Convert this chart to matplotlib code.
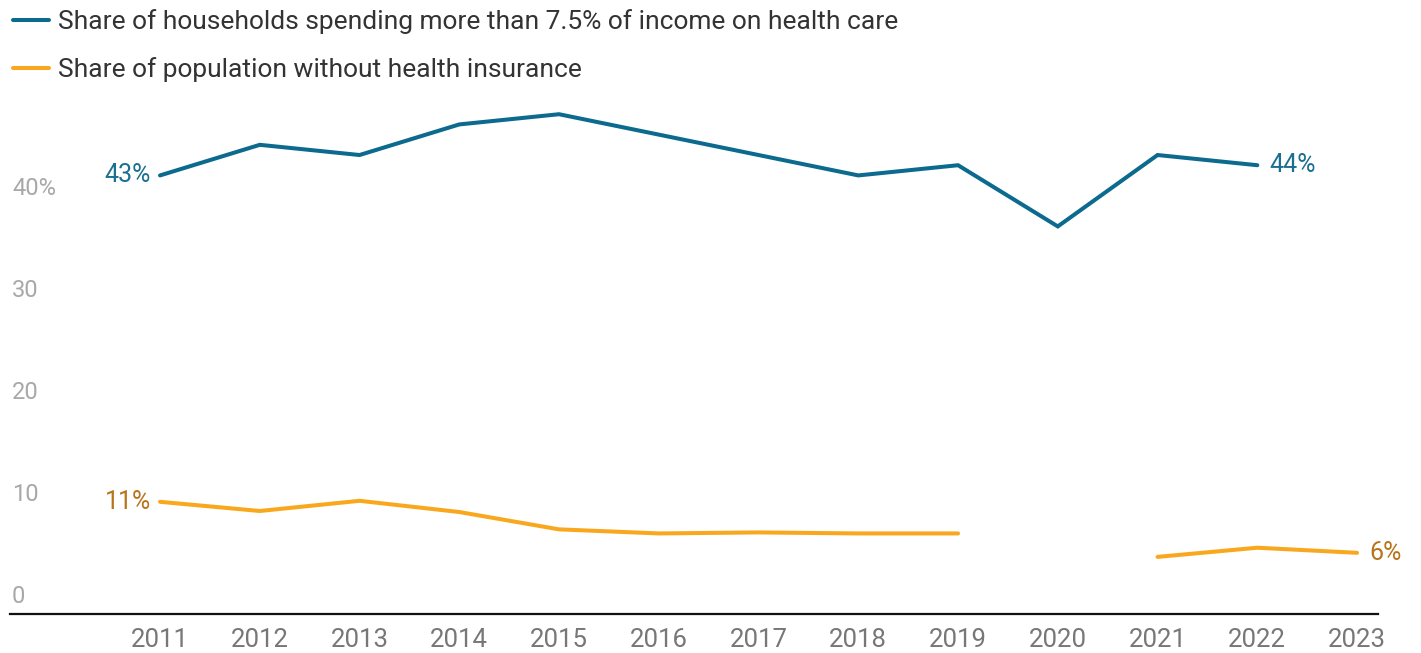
# Health care spending burden vs. uninsured share, 2011-2023

import numpy as np
import matplotlib.pyplot as plt
from matplotlib.transforms import blended_transform_factory, offset_copy

plt.rcParams['font.family'] = ['Roboto', 'DejaVu Sans']

# --- Data ---
years = [2011, 2012, 2013, 2014, 2015, 2016, 2017, 2018, 2019, 2020, 2021, 2022, 2023]
spending_share = [43, 46, 45, 48, 49, 47, 45, 43, 44, 38, 45, 44, np.nan]
uninsured_share = [11, 10.1, 11.1, 10.0, 8.3, 7.9, 8.0, 7.9, 7.9, np.nan, 5.6, 6.5, 6]
y_ticks = [0, 10, 20, 30, 40]
y_tick_labels = ['0', '10', '20', '30', '40%']

label_spending = 'Share of households spending more than 7.5% of income on health care'
label_uninsured = 'Share of population without health insurance'

# --- Style ---
color_blue = '#0b6a8e'
color_orange = '#f9a81e'
color_blue_text = '#1a6f92'
color_orange_text = '#b8741a'
tick_color = '#a8a8a8'
year_color = '#777777'

fig = plt.figure(figsize=(14.21, 6.53), dpi=100)
ax = fig.add_axes([0.00704, 0.0597, 0.9627, 0.781])

ax.plot(years, spending_share, color=color_blue, lw=2.9, label=label_spending,
        solid_joinstyle='miter', solid_capstyle='round')
ax.plot(years, uninsured_share, color=color_orange, lw=2.9, label=label_uninsured,
        solid_joinstyle='miter', solid_capstyle='round')

ax.set_xlim(2009.496, 2023.21)
ax.set_ylim(0, 50)

for s in ['top', 'right', 'left']:
    ax.spines[s].set_visible(False)
ax.spines['bottom'].set_color('#111111')
ax.spines['bottom'].set_linewidth(1.6)

ax.set_xticks(years)
ax.set_xticklabels([str(y) for y in years], fontsize=18.5, color=year_color)
ax.tick_params(axis='x', length=0, pad=10)
ax.set_yticks([])

# y tick labels sit just above their values
trans_y = blended_transform_factory(fig.transFigure, ax.transData)
trans_y = offset_copy(trans_y, fig=fig, x=0, y=6, units='dots')
for v, lab in zip(y_ticks, y_tick_labels):
    ax.text(12 / 1421, v, lab, transform=trans_y, fontsize=17, color=tick_color,
            ha='left', va='bottom')

# end-point value labels
def end_label(x, y, text, color, dx):
    t = offset_copy(ax.transData, fig=fig, x=dx, y=0, units='dots')
    ax.text(x, y, text, transform=t, fontsize=18, color=color,
            ha='right' if dx < 0 else 'left', va='center')

end_label(years[0], spending_share[0], '43%', color_blue_text, -9)
end_label(years[11], spending_share[11], '44%', color_blue_text, 12)
end_label(years[0], uninsured_share[0], '11%', color_orange_text, -9)
end_label(years[-1], uninsured_share[-1], '6%', color_orange_text, 12)

ax.legend(loc='upper left', bbox_to_anchor=(4 / 1421, 1.0), bbox_transform=fig.transFigure,
          frameon=False, fontsize=19, handlelength=1.36, handletextpad=0.36,
          labelspacing=0.87, borderaxespad=0.0, borderpad=0.34,
          labelcolor='#333333')

plt.savefig('out.png', dpi=100)
